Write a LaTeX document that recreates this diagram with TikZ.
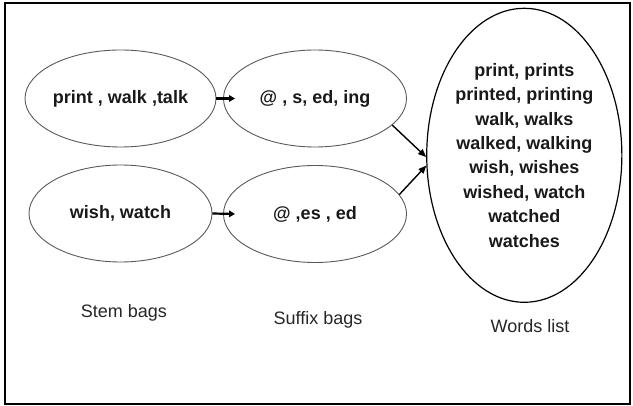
\documentclass[tikz,border=0pt]{standalone}
\usepackage{fontspec}
\setmainfont{Liberation Sans}
\usetikzlibrary{shapes.geometric,arrows.meta}
\begin{document}
\begin{tikzpicture}[x=1pt,y=-1pt,
  bag/.style={ellipse,draw=black!65,line width=0.9pt,minimum width=183pt,minimum height=97pt,inner sep=0pt,text=black!90,font=\fontsize{18}{24.4}\selectfont\bfseries},
  lbl/.style={font=\fontsize{18}{22}\selectfont,text=black!85},
  flow/.style={-{Triangle[length=6pt,width=6.5pt]},line width=2.2pt},
  joinarrow/.style={-{Triangle[length=8pt,width=6.5pt]},line width=1.4pt}]
\useasboundingbox (0,0) rectangle (633,406);
\draw[line width=2pt] (4.5,3) rectangle (630,404);
\node[bag] (st1) at (120.5,98.5) {print , walk ,talk};
\node[bag] (sf1) at (315,98.5) {@ , s, ed, ing};
\node[bag] (st2) at (120.5,213.5) {wish, watch};
\node[bag] (sf2) at (315,214) {@ ,es , ed};
\node[bag,draw=black,line width=1.2pt,minimum width=187pt,minimum height=294pt,align=center] (wl) at (524.3,155.3)
  {print, prints\\printed, printing\\walk, walks\\walked, walking\\wish, wishes\\wished, watch\\watched\\watches};
\node[lbl] (lst) at (124,313) {Stem bags};
\node[lbl] (lsf) at (318,320) {Suffix bags};
\node[lbl] (lwl) at (530,326.3) {Words list};
\draw[flow] (st1.east) -- ([xshift=12pt]sf1.west);
\draw[flow] (st2.east) -- ([xshift=12pt]sf2.west);
\draw[joinarrow] (sf1.-19) -- (wl.181);
\draw[joinarrow] (sf2.13) -- (wl.186);
\end{tikzpicture}
\end{document}
